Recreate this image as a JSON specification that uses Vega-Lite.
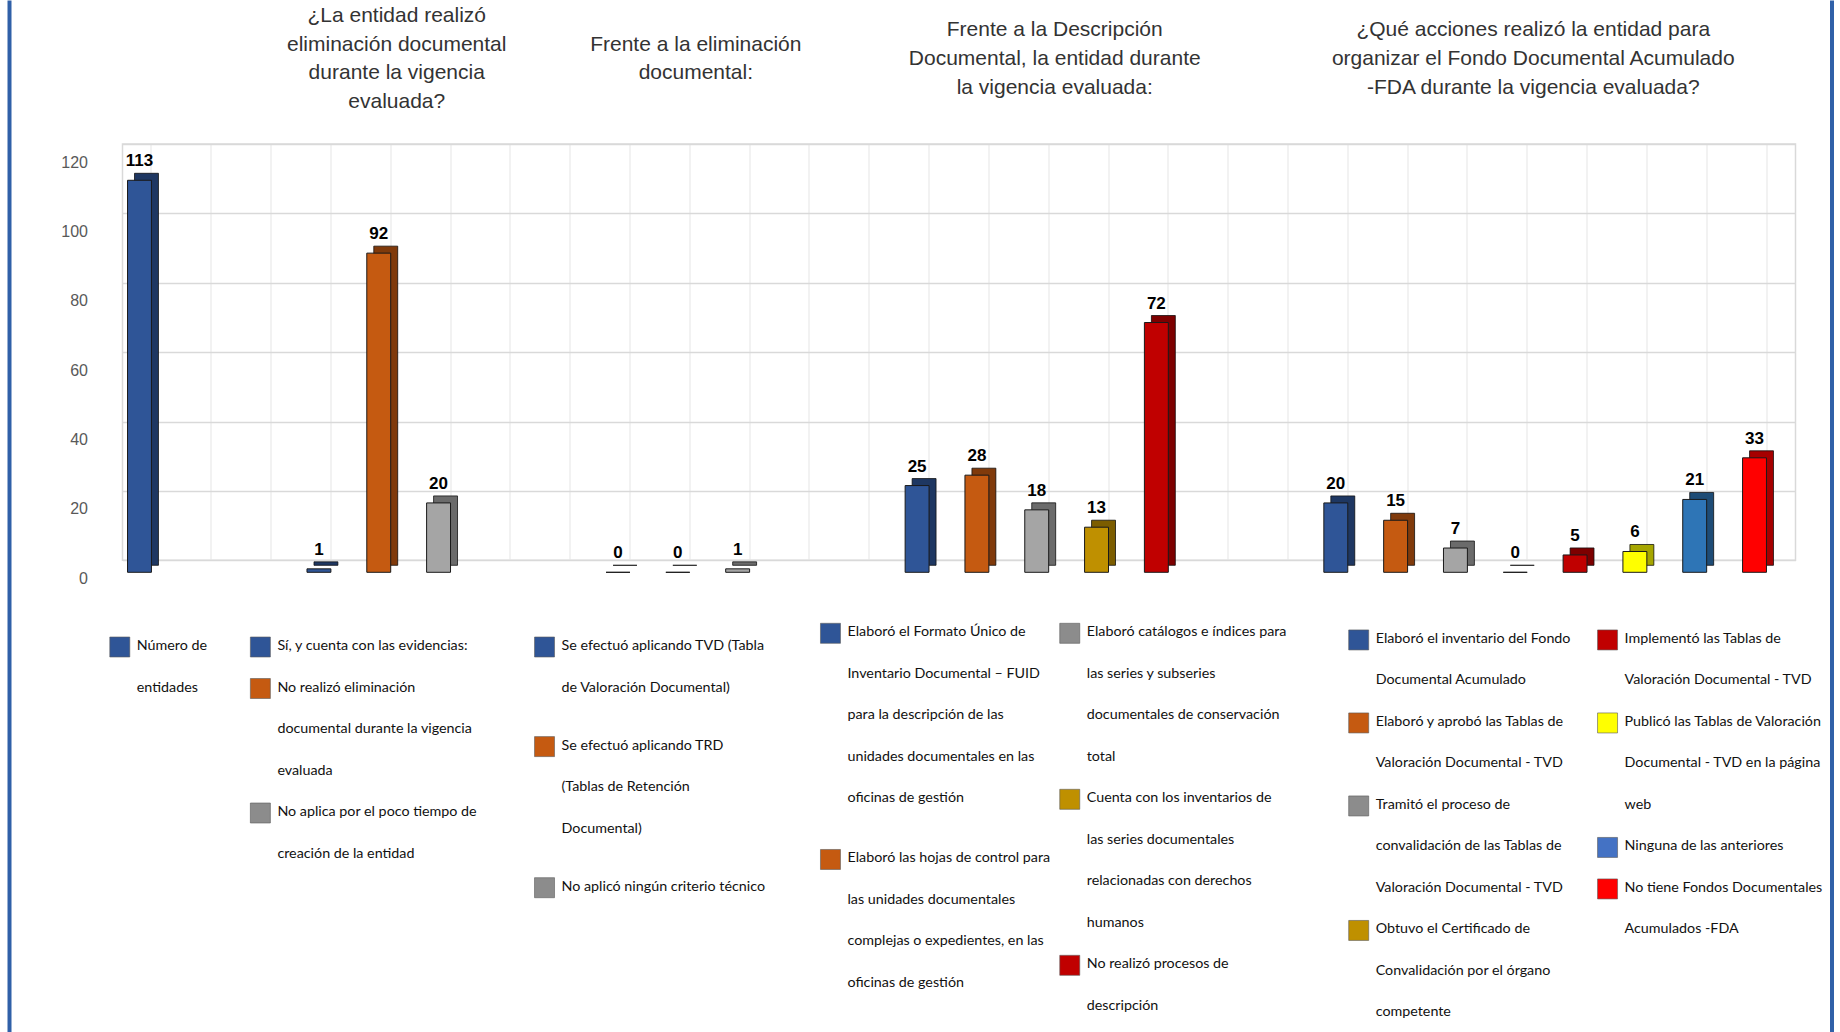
{
  "$schema": "https://vega.github.io/schema/vega-lite/v6.json",
  "background": "white",
  "padding": {"left": 7, "top": 0, "right": 0, "bottom": 0},
  "bounds": "flush",
  "spacing": 112.5,
  "config": {
    "view": {"stroke": null},
    "font": "Liberation Sans",
    "axisX": {"labels": false, "ticks": false, "domain": false, "title": null, "grid": true, "gridColor": "#e9e9e9", "gridWidth": 1.2}
  },
  "datasets": {
    "barras": [
      {"grupo": "G1", "pregunta": "", "clave": "G1-1", "etiqueta": "Número de\nentidades", "valor": 113},
      {"grupo": "G2", "pregunta": "¿La entidad realizó\neliminación documental\ndurante la vigencia\nevaluada?", "clave": "G2-1", "etiqueta": "Sí, y cuenta con las evidencias:", "valor": 1},
      {"grupo": "G2", "pregunta": "¿La entidad realizó\neliminación documental\ndurante la vigencia\nevaluada?", "clave": "G2-2", "etiqueta": "No realizó eliminación\ndocumental durante la vigencia\nevaluada", "valor": 92},
      {"grupo": "G2", "pregunta": "¿La entidad realizó\neliminación documental\ndurante la vigencia\nevaluada?", "clave": "G2-3", "etiqueta": "No aplica por el poco tiempo de\ncreación de la entidad", "valor": 20},
      {"grupo": "G3", "pregunta": "Frente a la eliminación\ndocumental:", "clave": "G3-1", "etiqueta": "Se efectuó aplicando TVD (Tabla\nde Valoración Documental)", "valor": 0},
      {"grupo": "G3", "pregunta": "Frente a la eliminación\ndocumental:", "clave": "G3-2", "etiqueta": "Se efectuó aplicando TRD\n(Tablas de Retención\nDocumental)", "valor": 0},
      {"grupo": "G3", "pregunta": "Frente a la eliminación\ndocumental:", "clave": "G3-3", "etiqueta": "No aplicó ningún criterio técnico", "valor": 1},
      {"grupo": "G4", "pregunta": "Frente a la Descripción\nDocumental, la entidad durante\nla vigencia evaluada:", "clave": "G4-1", "etiqueta": "Elaboró el Formato Único de\nInventario Documental – FUID\npara la descripción de las\nunidades documentales en las\noficinas de gestión", "valor": 25},
      {"grupo": "G4", "pregunta": "Frente a la Descripción\nDocumental, la entidad durante\nla vigencia evaluada:", "clave": "G4-2", "etiqueta": "Elaboró las hojas de control para\nlas unidades documentales\ncomplejas o expedientes, en las\noficinas de gestión", "valor": 28},
      {"grupo": "G4", "pregunta": "Frente a la Descripción\nDocumental, la entidad durante\nla vigencia evaluada:", "clave": "G4-3", "etiqueta": "Elaboró catálogos e índices para\nlas series y subseries\ndocumentales de conservación\ntotal", "valor": 18},
      {"grupo": "G4", "pregunta": "Frente a la Descripción\nDocumental, la entidad durante\nla vigencia evaluada:", "clave": "G4-4", "etiqueta": "Cuenta con los inventarios de\nlas series documentales\nrelacionadas con derechos\nhumanos", "valor": 13},
      {"grupo": "G4", "pregunta": "Frente a la Descripción\nDocumental, la entidad durante\nla vigencia evaluada:", "clave": "G4-5", "etiqueta": "No realizó procesos de\ndescripción", "valor": 72},
      {"grupo": "G5", "pregunta": "¿Qué acciones realizó la entidad para\norganizar el Fondo Documental Acumulado\n-FDA durante la vigencia evaluada?", "clave": "G5-1", "etiqueta": "Elaboró el inventario del Fondo\nDocumental Acumulado", "valor": 20},
      {"grupo": "G5", "pregunta": "¿Qué acciones realizó la entidad para\norganizar el Fondo Documental Acumulado\n-FDA durante la vigencia evaluada?", "clave": "G5-2", "etiqueta": "Elaboró y aprobó las Tablas de\nValoración Documental - TVD", "valor": 15},
      {"grupo": "G5", "pregunta": "¿Qué acciones realizó la entidad para\norganizar el Fondo Documental Acumulado\n-FDA durante la vigencia evaluada?", "clave": "G5-3", "etiqueta": "Tramitó el proceso de\nconvalidación de las Tablas de\nValoración Documental - TVD", "valor": 7},
      {"grupo": "G5", "pregunta": "¿Qué acciones realizó la entidad para\norganizar el Fondo Documental Acumulado\n-FDA durante la vigencia evaluada?", "clave": "G5-4", "etiqueta": "Obtuvo el Certificado de\nConvalidación por el órgano\ncompetente", "valor": 0},
      {"grupo": "G5", "pregunta": "¿Qué acciones realizó la entidad para\norganizar el Fondo Documental Acumulado\n-FDA durante la vigencia evaluada?", "clave": "G5-5", "etiqueta": "Implementó las Tablas de\nValoración Documental - TVD", "valor": 5},
      {"grupo": "G5", "pregunta": "¿Qué acciones realizó la entidad para\norganizar el Fondo Documental Acumulado\n-FDA durante la vigencia evaluada?", "clave": "G5-6", "etiqueta": "Publicó las Tablas de Valoración\nDocumental - TVD en la página\nweb", "valor": 6},
      {"grupo": "G5", "pregunta": "¿Qué acciones realizó la entidad para\norganizar el Fondo Documental Acumulado\n-FDA durante la vigencia evaluada?", "clave": "G5-7", "etiqueta": "Ninguna de las anteriores", "valor": 21},
      {"grupo": "G5", "pregunta": "¿Qué acciones realizó la entidad para\norganizar el Fondo Documental Acumulado\n-FDA durante la vigencia evaluada?", "clave": "G5-8", "etiqueta": "No tiene Fondos Documentales\nAcumulados -FDA", "valor": 33}
    ]
  },
  "hconcat": [
    {
      "width": 1, "height": 1029,
      "data": {"values": [{"borde": 1}]},
      "mark": {"type": "text"},
      "encoding": {"text": {"value": ""}},
      "view": {"stroke": "#3060A8", "strokeWidth": 3}
    },
    {
      "spacing": 7,
      "bounds": "full",
      "hconcat": [
        {
          "spacing": 0,
          "bounds": "flush",
          "vconcat": [
            {
              "width": 1673, "height": 141.7,
              "data": {"name": "barras"},
              "transform": [
                {"window": [{"op": "row_number", "as": "k"}, {"op": "count", "as": "m"}], "groupby": ["grupo"], "frame": [null, null]},
                {"filter": "datum.k === ceil(datum.m / 2) && datum.pregunta !== ''"},
                {"calculate": "length(split(datum.pregunta, '\\n'))", "as": "nl"}
              ],
              "mark": {"type": "text", "lineBreak": "\n", "lineHeight": 28.6, "align": "center", "baseline": "middle", "xOffset": 6, "font": "Liberation Sans", "fontSize": 21, "color": "#333333"},
              "encoding": {
                "x": {"field": "clave", "type": "nominal", "axis": null,
                  "scale": {"type": "band", "domain": ["G1-1","s1","s2","G2-1","G2-2","G2-3","s3","s4","G3-1","G3-2","G3-3","s5","s6","G4-1","G4-2","G4-3","G4-4","G4-5","s7","s8","G5-1","G5-2","G5-3","G5-4","G5-5","G5-6","G5-7","G5-8"], "paddingInner": 0.6, "paddingOuter": 0.2846}},
                "y": {"field": "nl", "type": "quantitative", "axis": null, "scale": {"domain": [-4.92, 4.99], "nice": false, "zero": false}},
                "text": {"field": "pregunta"}
              }
            },
            {
              "width": 1673, "height": 416.3,
              "view": {"stroke": "#d9d9d9", "strokeWidth": 1.5},
              "data": {"name": "barras"},
              "encoding": {
                "x": {"field": "clave", "type": "nominal",
                  "axis": {"bandPosition": 0.5},
                  "scale": {"type": "band", "domain": ["G1-1","s1","s2","G2-1","G2-2","G2-3","s3","s4","G3-1","G3-2","G3-3","s5","s6","G4-1","G4-2","G4-3","G4-4","G4-5","s7","s8","G5-1","G5-2","G5-3","G5-4","G5-5","G5-6","G5-7","G5-8"], "paddingInner": 0.6, "paddingOuter": 0.2846}},
                "y": {"field": "valor", "type": "quantitative",
                  "scale": {"domain": [0, 120], "nice": false},
                  "axis": {"values": [0, 20, 40, 60, 80, 100, 120], "grid": true, "gridColor": "#d9d9d9", "gridWidth": 1.5, "domain": false, "ticks": false, "labelPadding": 35, "labelOffset": 18, "labelFont": "Liberation Sans", "labelFontSize": 16, "labelColor": "#595959", "title": null}}
              },
              "layer": [
                {
                  "mark": {"type": "bar", "xOffset": -5, "yOffset": 5, "y2Offset": 5, "stroke": "#1a1a1a", "strokeWidth": 0.8},
                  "encoding": {
                    "color": {"field": "clave", "type": "nominal", "legend": null,
                      "scale": {"domain": ["G1-1","G2-1","G2-2","G2-3","G3-1","G3-2","G3-3","G4-1","G4-2","G4-3","G4-4","G4-5","G5-1","G5-2","G5-3","G5-4","G5-5","G5-6","G5-7","G5-8"],
                        "range": ["#2F5597","#2F5597","#C55A11","#A5A5A5","#2F5597","#C55A11","#A5A5A5","#2F5597","#C55A11","#A5A5A5","#BF9000","#C00000","#2F5597","#C55A11","#A5A5A5","#BF9000","#C00000","#FFFF00","#2E75B6","#FF0000"]}}
                  }
                },
                {
                  "mark": {"type": "bar", "xOffset": -5, "yOffset": 5, "y2Offset": 5, "color": "#000000", "opacity": 0.35},
                  "encoding": {}
                },
                {
                  "mark": {"type": "bar", "xOffset": -12, "yOffset": 12, "y2Offset": 12, "stroke": "#1a1a1a", "strokeWidth": 1},
                  "encoding": {
                    "color": {"field": "clave", "type": "nominal", "legend": null}
                  }
                },
                {
                  "mark": {"type": "text", "xOffset": -12, "yOffset": -2, "baseline": "alphabetic", "font": "Liberation Sans", "fontWeight": "bold", "fontSize": 17, "color": "#000000"},
                  "encoding": {"text": {"field": "valor", "type": "quantitative"}}
                }
              ]
            },
            {
              "width": 1673, "height": 474,
              "data": {"name": "barras"},
              "transform": [
                {"window": [{"op": "row_number", "as": "k"}], "groupby": ["grupo"]},
                {"calculate": "datum.grupo === 'G4' ? (datum.k <= 2 ? 'G4a' : 'G4b') : datum.grupo === 'G5' ? (datum.k <= 4 ? 'G5a' : 'G5b') : datum.grupo", "as": "columna"},
                {"calculate": "length(split(datum.etiqueta, '\\n'))", "as": "nlineas"},
                {"window": [{"op": "sum", "field": "nlineas", "as": "acumuladas"}], "groupby": ["columna"], "sort": [{"field": "clave"}]},
                {"calculate": "datum.acumuladas - datum.nlineas + (datum.grupo === 'G3' ? 0.4 * (datum.k - 1) : datum.columna === 'G4a' ? 0.45 * (datum.k - 1) : 0) + (datum.grupo === 'G4' ? -0.33 : datum.grupo === 'G5' ? -0.17 : 0)", "as": "renglon"},
                {"calculate": "datum.columna === 'G1' ? -0.53 : datum.columna === 'G2' ? 1.82 : datum.columna === 'G3' ? 6.57 : datum.columna === 'G4a' ? 11.35 : datum.columna === 'G4b' ? 15.35 : datum.columna === 'G5a' ? 20.18 : 24.34", "as": "posicion"}
              ],
              "encoding": {
                "x": {"field": "posicion", "type": "quantitative", "axis": null,
                  "scale": {"domain": [-0.4848, 27.482], "zero": false, "nice": false}},
                "y": {"field": "renglon", "type": "quantitative", "axis": null,
                  "scale": {"domain": [9.542, -1.8795], "zero": false, "nice": false}}
              },
              "layer": [
                {
                  "mark": {"type": "point", "shape": "square", "filled": true, "size": 400, "opacity": 1, "yOffset": 8, "stroke": "#5a5a5a", "strokeWidth": 0.6},
                  "encoding": {
                    "fill": {"field": "clave", "type": "nominal", "legend": null,
                      "scale": {"domain": ["G1-1","G2-1","G2-2","G2-3","G3-1","G3-2","G3-3","G4-1","G4-2","G4-3","G4-4","G4-5","G5-1","G5-2","G5-3","G5-4","G5-5","G5-6","G5-7","G5-8"],
                        "range": ["#2F5597","#2F5597","#C55A11","#8C8C8C","#2F5597","#C55A11","#8C8C8C","#2F5597","#C55A11","#8C8C8C","#BF9000","#C00000","#2F5597","#C55A11","#8C8C8C","#BF9000","#C00000","#FFFF00","#4472C4","#FF0000"]}}
                  }
                },
                {
                  "mark": {"type": "text", "align": "left", "baseline": "top", "dx": 17, "lineBreak": "\n", "lineHeight": 41.5, "font": "Lato", "fontSize": 14.3, "color": "#111111"},
                  "encoding": {
                    "text": {"field": "etiqueta"}
                  }
                }
              ]
            }
          ]
        },
        {
          "width": 1, "height": 1029,
          "data": {"values": [{"borde": 1}]},
          "mark": {"type": "text"},
          "encoding": {"text": {"value": ""}},
          "view": {"stroke": "#3060A8", "strokeWidth": 3}
        }
      ]
    }
  ]
}
